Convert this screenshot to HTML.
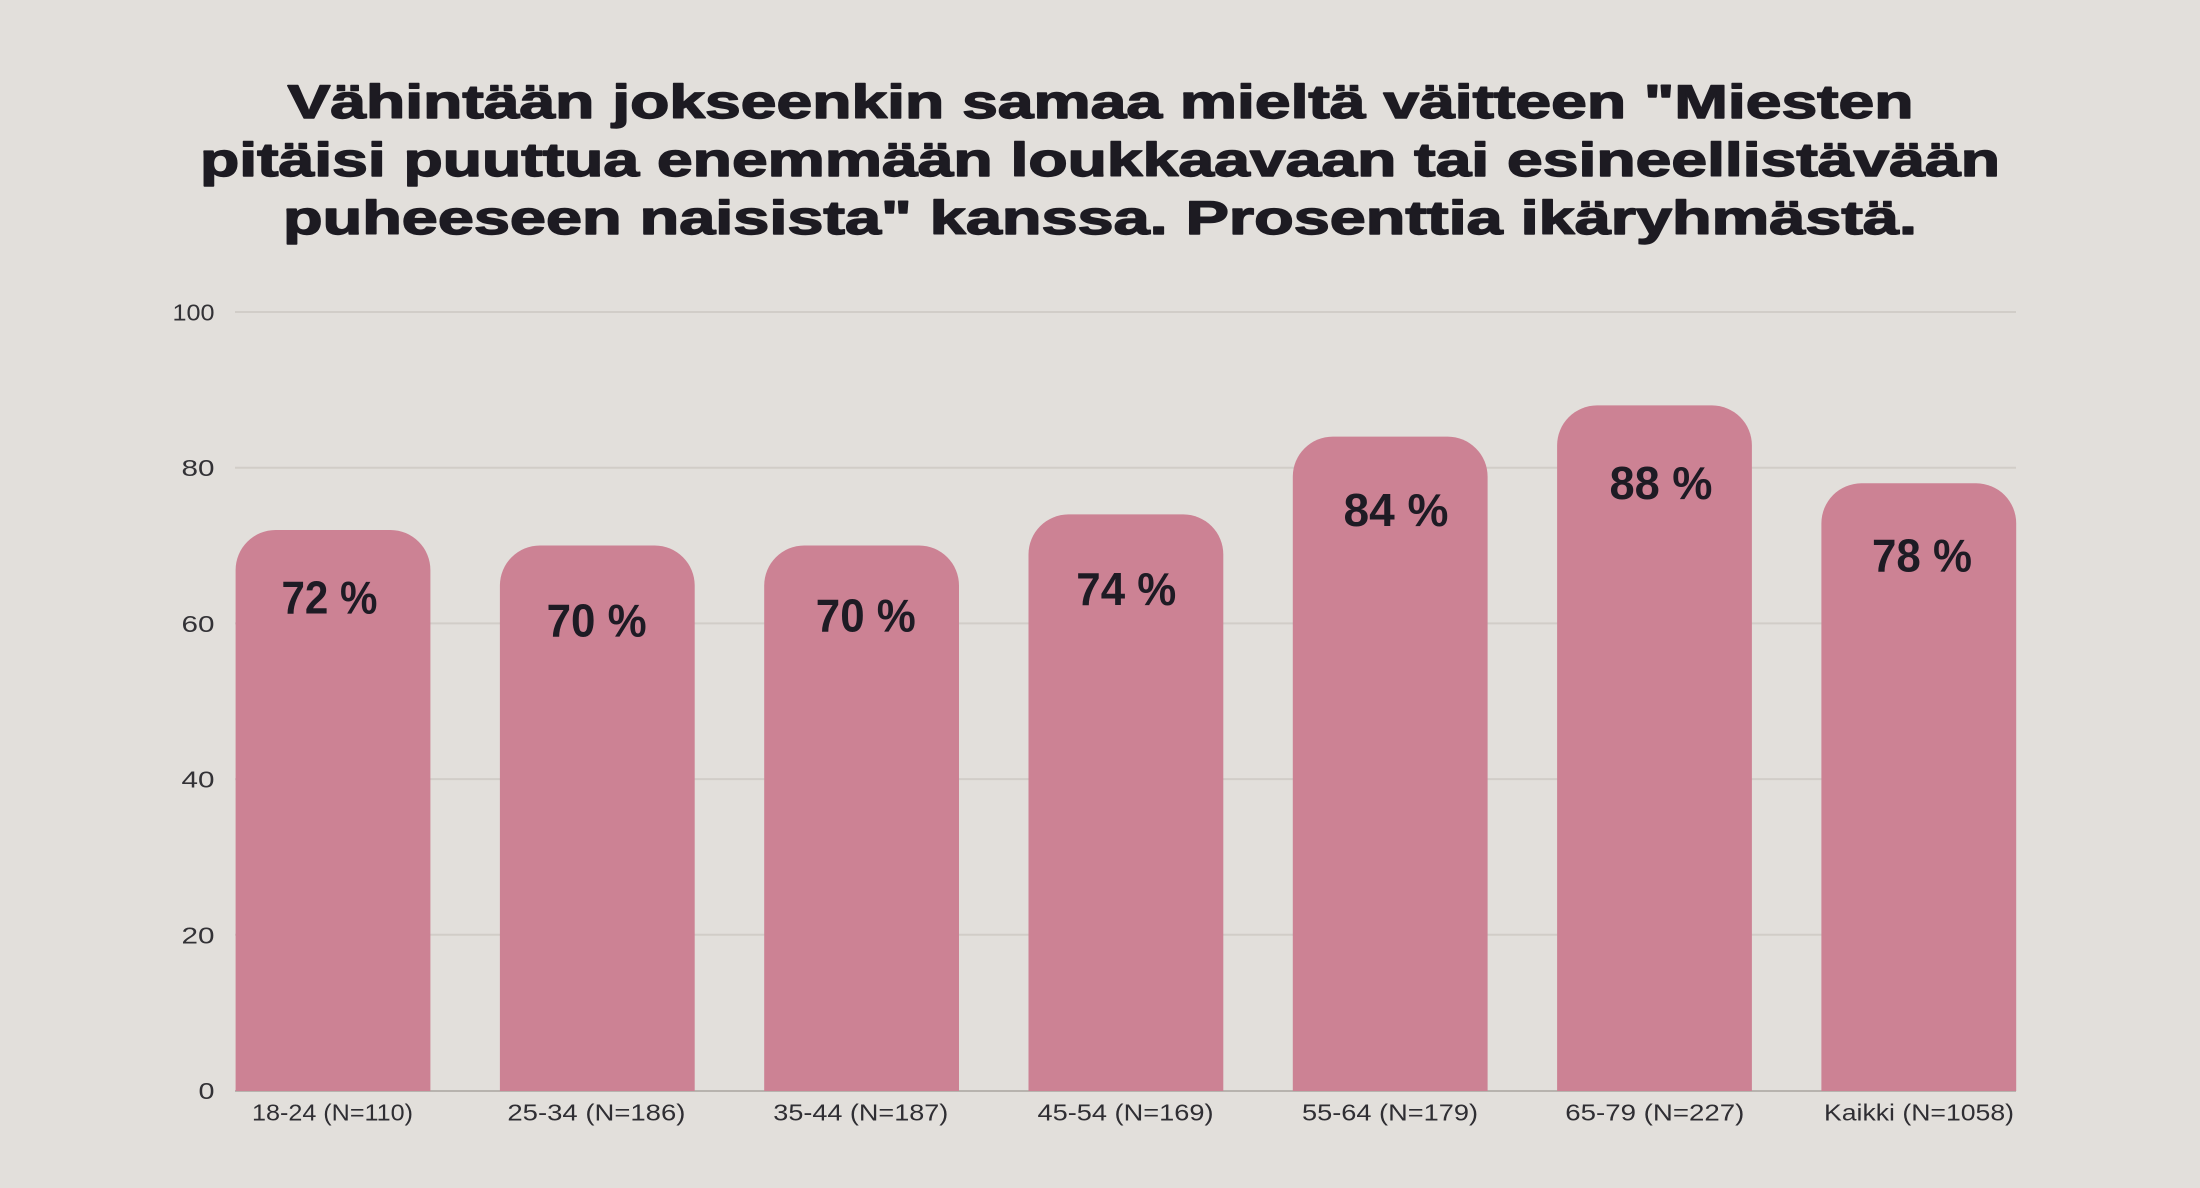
<!DOCTYPE html>
<html>
<head>
<meta charset="utf-8">
<style>
  html,body{margin:0;padding:0;background:#e2dfdb;}
  body{width:2200px;height:1188px;overflow:hidden;}
  svg{display:block;}
</style>
</head>
<body>
<svg width="2200" height="1188" viewBox="0 0 2200 1188" xmlns="http://www.w3.org/2000/svg">
  <rect x="0" y="0" width="2200" height="1188" fill="#e2dfdb"/>

  <!-- Title -->
  <g font-family="'Liberation Sans', sans-serif" font-weight="bold" font-size="47" fill="#1d1b22" stroke="#1d1b22" stroke-width="1.4" stroke-linejoin="round" text-anchor="middle">
    <text x="1100.5" y="118" textLength="1626" lengthAdjust="spacingAndGlyphs">Vähintään jokseenkin samaa mieltä väitteen "Miesten</text>
    <text x="1100" y="176" textLength="1800" lengthAdjust="spacingAndGlyphs">pitäisi puuttua enemmään loukkaavaan tai esineellistävään</text>
    <text x="1100" y="234" textLength="1634" lengthAdjust="spacingAndGlyphs">puheeseen naisista" kanssa. Prosenttia ikäryhmästä.</text>
  </g>

  <!-- Gridlines -->
  <g stroke="#d1cdc8" stroke-width="2">
    <line x1="235" y1="312" x2="2016" y2="312"/>
    <line x1="235" y1="467.7" x2="2016" y2="467.7"/>
    <line x1="235" y1="623.4" x2="2016" y2="623.4"/>
    <line x1="235" y1="779.1" x2="2016" y2="779.1"/>
    <line x1="235" y1="934.8" x2="2016" y2="934.8"/>
  </g>
  <line x1="235" y1="1091" x2="2016" y2="1091" stroke="#b7b3ae" stroke-width="2"/>

  <!-- Y tick labels -->
  <g font-family="'Liberation Sans', sans-serif" font-size="23" fill="#333236" text-anchor="end">
    <text x="214.5" y="320.5" textLength="42" lengthAdjust="spacingAndGlyphs">100</text>
    <text x="214.5" y="476.2" textLength="33" lengthAdjust="spacingAndGlyphs">80</text>
    <text x="214.5" y="631.9" textLength="33" lengthAdjust="spacingAndGlyphs">60</text>
    <text x="214.5" y="787.6" textLength="33" lengthAdjust="spacingAndGlyphs">40</text>
    <text x="214.5" y="943.3" textLength="33" lengthAdjust="spacingAndGlyphs">20</text>
    <text x="214.5" y="1099" textLength="16" lengthAdjust="spacingAndGlyphs">0</text>
  </g>

  <!-- Bars -->
  <g fill="#cc8294">
    <path d="M235.6,1091 V570 A40,40 0 0 1 275.6,530 H390.4 A40,40 0 0 1 430.4,570 V1091 Z"/>
    <path d="M499.9,1091 V585.5 A40,40 0 0 1 539.9,545.5 H654.7 A40,40 0 0 1 694.7,585.5 V1091 Z"/>
    <path d="M764.2,1091 V585.5 A40,40 0 0 1 804.2,545.5 H919 A40,40 0 0 1 959,585.5 V1091 Z"/>
    <path d="M1028.5,1091 V554.4 A40,40 0 0 1 1068.5,514.4 H1183.3 A40,40 0 0 1 1223.3,554.4 V1091 Z"/>
    <path d="M1292.8,1091 V476.6 A40,40 0 0 1 1332.8,436.6 H1447.6 A40,40 0 0 1 1487.6,476.6 V1091 Z"/>
    <path d="M1557.1,1091 V445.4 A40,40 0 0 1 1597.1,405.4 H1711.9 A40,40 0 0 1 1751.9,445.4 V1091 Z"/>
    <path d="M1821.4,1091 V523.3 A40,40 0 0 1 1861.4,483.3 H1976.2 A40,40 0 0 1 2016.2,523.3 V1091 Z"/>
  </g>

  <!-- Value labels -->
  <g font-family="'Liberation Sans', sans-serif" font-weight="bold" font-size="46" fill="#1e1b24" text-anchor="middle">
    <text x="329.5" y="613.3" textLength="96" lengthAdjust="spacingAndGlyphs">72 %</text>
    <text x="596.6" y="636.7" textLength="100" lengthAdjust="spacingAndGlyphs">70 %</text>
    <text x="865.8" y="631.7" textLength="100" lengthAdjust="spacingAndGlyphs">70 %</text>
    <text x="1126.3" y="605" textLength="100" lengthAdjust="spacingAndGlyphs">74 %</text>
    <text x="1396" y="526" textLength="105" lengthAdjust="spacingAndGlyphs">84 %</text>
    <text x="1661" y="499" textLength="103" lengthAdjust="spacingAndGlyphs">88 %</text>
    <text x="1922" y="571.7" textLength="100" lengthAdjust="spacingAndGlyphs">78 %</text>
  </g>

  <!-- X labels -->
  <g font-family="'Liberation Sans', sans-serif" font-size="23" fill="#2f2e33" text-anchor="middle">
    <text x="332.5" y="1120.7" textLength="161" lengthAdjust="spacingAndGlyphs">18-24 (N=110)</text>
    <text x="596.4" y="1120.7" textLength="178" lengthAdjust="spacingAndGlyphs">25-34 (N=186)</text>
    <text x="860.8" y="1120.7" textLength="175" lengthAdjust="spacingAndGlyphs">35-44 (N=187)</text>
    <text x="1125.5" y="1120.7" textLength="176" lengthAdjust="spacingAndGlyphs">45-54 (N=169)</text>
    <text x="1390" y="1120.7" textLength="176" lengthAdjust="spacingAndGlyphs">55-64 (N=179)</text>
    <text x="1654.8" y="1120.7" textLength="179" lengthAdjust="spacingAndGlyphs">65-79 (N=227)</text>
    <text x="1919" y="1120.7" textLength="190" lengthAdjust="spacingAndGlyphs">Kaikki (N=1058)</text>
  </g>
</svg>
</body>
</html>
